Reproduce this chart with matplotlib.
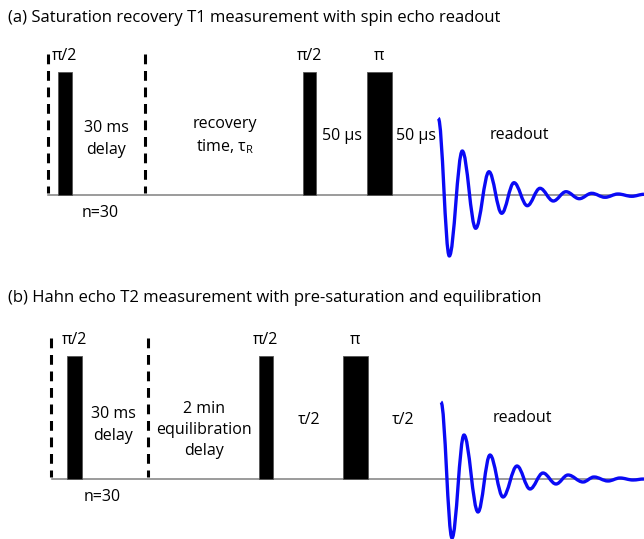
import matplotlib
matplotlib.use("Agg")
import matplotlib.pyplot as plt
from matplotlib.path import Path
from matplotlib.patches import PathPatch, Rectangle

plt.rcParams['font.family'] = ['Open Sans', 'DejaVu Sans']

# panel titles
titles = ["(a) Saturation recovery T1 measurement with spin echo readout",
          "(b) Hahn echo T2 measurement with pre-saturation and equilibration"]

# pulses (start, end on the time axis) and their flip angles
pulse_a_start = [58, 303, 367]
pulse_a_end = [72, 316, 392]
pulse_b_start = [67, 259, 343]
pulse_b_end = [82, 273, 368]
pulse_names = ["π/2", "π/2", "π"]

# dashed markers around the repeated saturation block
loop_a = [48.5, 145]
loop_b = [51, 148]
loop_text = "n=30"

# delay labels: centre on the time axis + text
delay_a_x = [106, 225, 342, 416, 519]
delay_a_text = ["30 ms\ndelay", "recovery\ntime, τ$_\\mathregular{R}$",
                "50 µs", "50 µs", "readout"]
delay_b_x = [113, 204, 309, 403, 522]
delay_b_text = ["30 ms\ndelay", "2 min\nequilibration\ndelay",
                "τ/2", "τ/2", "readout"]

# echo readout: extrema of the ringing signal (time, amplitude)
echo_a_t = [438.3, 449.3, 462.3, 475.7, 489, 501.7, 514, 527.3, 540,
            553.3, 566, 579.3, 591.7, 605, 618, 631.7, 644]
echo_a_amp = [76.7, -61, 44, -33.3, 23.3, -18.3, 12.3, -10.7, 6.7,
              -6, 3.3, -3.7, 1.7, -2.3, 1, -1.3, 0.7]
echo_b_t = [441, 452, 464, 478, 490, 503, 517, 530, 543,
            556, 568, 583, 594, 608, 620, 633, 644]
echo_b_amp = [76.5, -59.5, 43.5, -33.5, 23.5, -18.5, 12.5, -10.5, 5.5,
              -5.5, 3.5, -3.5, 1.5, -2.5, 0.5, -1.5, -0.5]

fig = plt.figure(figsize=(6.44, 5.39), dpi=100)
ax = fig.add_axes([0, 0, 1, 1])
ax.set_xlim(0, 644)
ax.set_ylim(539, 0)
ax.axis('off')


def echo_path(ts, amps, base):
    # smooth half-waves between the extrema (horizontal tangent at each one)
    k = 0.364
    verts = [(ts[0], base - amps[0])]
    codes = [Path.MOVETO]
    for i in range(1, len(ts)):
        x0, y0 = ts[i-1], base - amps[i-1]
        x1, y1 = ts[i], base - amps[i]
        dx = x1 - x0
        verts += [(x0 + k*dx, y0), (x1 - k*dx, y1), (x1, y1)]
        codes += [Path.CURVE4] * 3
    return Path(verts, codes)


def panel(title, ty, base, top, loops, starts, ends, dx, dtext, dy, nty, ets, eamps, line_x0):
    ax.text(8, ty, title, fontsize=12.0, ha='left', va='center')
    ax.plot([line_x0, 644], [base, base], color='#808080', lw=1.1, zorder=1)
    for x in loops:
        ax.plot([x, x], [top - 18, base - 2], color='black', lw=2.2,
                linestyle=(0, (3.2, 2.2)), solid_capstyle='butt')
    for s, e, name in zip(starts, ends, pulse_names):
        ax.add_patch(Rectangle((s, top), e - s, base - top, facecolor='black',
                               edgecolor='#555555', lw=0.6, zorder=2))
        ax.text((s + e) / 2, top - 16, name, fontsize=11.5, ha='center', va='center')
    for x, t, y in zip(dx, dtext, dy):
        ax.text(x, y, t, fontsize=11.5, ha='center', va='center', linespacing=1.45)
    ax.text((loops[0] + loops[1]) / 2 + 3, nty, loop_text, fontsize=11.5,
            ha='center', va='center')
    ax.add_patch(PathPatch(echo_path(ets, eamps, base), facecolor='none',
                           edgecolor='#0a0af5', lw=2.4, joinstyle='round',
                           capstyle='butt', zorder=3))


panel(titles[0], 18, 195, 72, loop_a, pulse_a_start, pulse_a_end, delay_a_x, delay_a_text,
      [139, 136, 136, 136, 135], 213, echo_a_t, echo_a_amp, 48)
panel(titles[1], 298, 478.5, 356, loop_b, pulse_b_start, pulse_b_end, delay_b_x, delay_b_text,
      [425, 430, 420, 420, 418], 497, echo_b_t, echo_b_amp, 52)

fig.savefig("out.png", dpi=100)
